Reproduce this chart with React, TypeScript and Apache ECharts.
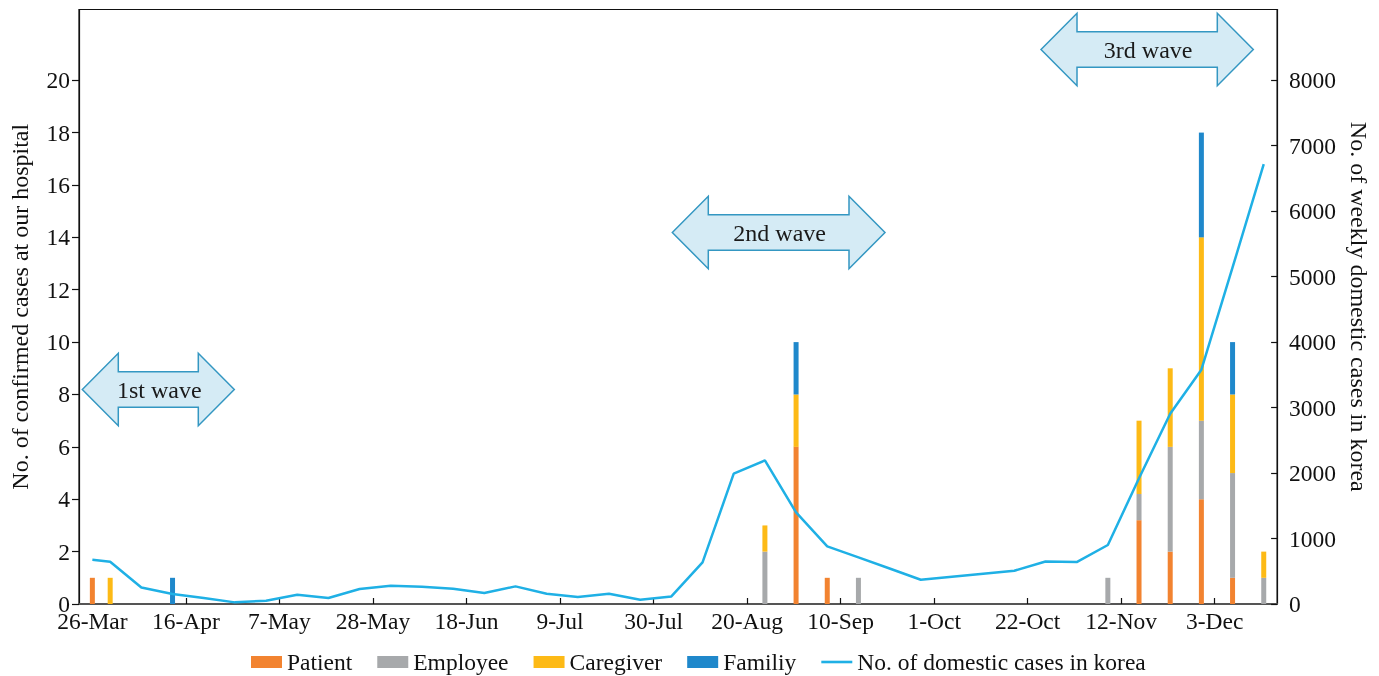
import React, { useEffect, useRef } from 'react';
import * as echarts from 'echarts';

// ---- data ----
const weeks = [
  '26-Mar', '30-Mar', '6-Apr', '13-Apr', '20-Apr', '27-Apr', '4-May', '11-May', '18-May', '25-May',
  '1-Jun', '8-Jun', '15-Jun', '22-Jun', '29-Jun', '6-Jul', '13-Jul', '20-Jul', '27-Jul', '3-Aug',
  '10-Aug', '17-Aug', '24-Aug', '31-Aug', '7-Sep', '14-Sep', '21-Sep', '28-Sep', '5-Oct', '12-Oct',
  '19-Oct', '26-Oct', '2-Nov', '9-Nov', '16-Nov', '23-Nov', '30-Nov', '7-Dec', '14-Dec',
];
const patient = [
  1, 0, 0, 0, 0, 0, 0, 0, 0, 0,
  0, 0, 0, 0, 0, 0, 0, 0, 0, 0,
  0, 0, 0, 6, 1, 0, 0, 0, 0, 0,
  0, 0, 0, 0, 3.2, 2, 4, 1, 0,
];
const employee = [
  0, 0, 0, 0, 0, 0, 0, 0, 0, 0,
  0, 0, 0, 0, 0, 0, 0, 0, 0, 0,
  0, 0, 2, 0, 0, 1, 0, 0, 0, 0,
  0, 0, 0, 1, 1, 4, 3, 4, 1,
];
const caregiver = [
  0, 1, 0, 0, 0, 0, 0, 0, 0, 0,
  0, 0, 0, 0, 0, 0, 0, 0, 0, 0,
  0, 0, 1, 2, 0, 0, 0, 0, 0, 0,
  0, 0, 0, 0, 2.8, 3, 7, 3, 1,
];
const familiy = [
  0, 0, 0, 1, 0, 0, 0, 0, 0, 0,
  0, 0, 0, 0, 0, 0, 0, 0, 0, 0,
  0, 0, 0, 2, 0, 0, 0, 0, 0, 0,
  0, 0, 0, 0, 0, 0, 4, 2, 0,
];
const domestic = [
  676, 646, 253, 153, 92, 25, 50, 142, 92, 229,
  279, 264, 234, 168, 269, 157, 107, 157, 66, 116,
  635, 1990, 2193, 1399, 880, 712, 542, 371, 417, 463,
  508, 650, 641, 901, 1920, 2906, 3578, 5140, 6719,
];
const xTickLabels = [
  '26-Mar', '16-Apr', '7-May', '28-May', '18-Jun', '9-Jul', '30-Jul',
  '20-Aug', '10-Sep', '1-Oct', '22-Oct', '12-Nov', '3-Dec',
];
const xRange = ['23-Mar', '17-Dec'];
const leftTicks = [0, 2, 4, 6, 8, 10, 12, 14, 16, 18, 20];
const rightTicks = [0, 1000, 2000, 3000, 4000, 5000, 6000, 7000, 8000];

const seriesNames = ['Patient', 'Employee', 'Caregiver', 'Familiy'];
const lineName = 'No. of domestic cases in korea';
const colors = ['#F28330', '#A7A9AB', '#FDBA16', '#1F88CB'];
const lineColor = '#1FB0E5';

const MONTHS = ['Jan', 'Feb', 'Mar', 'Apr', 'May', 'Jun', 'Jul', 'Aug', 'Sep', 'Oct', 'Nov', 'Dec'];
const ORIGIN = Date.UTC(2020, 2, 26);
function toDay(label: string): number {
  const [d, m] = label.split('-');
  return Math.round((Date.UTC(2020, MONTHS.indexOf(m), Number(d)) - ORIGIN) / 86400000);
}
const dayToLabel: Record<number, string> = {};
xTickLabels.forEach((l) => { dayToLabel[toDay(l)] = l; });

const FONT = 'Liberation Serif';

function arrow(xL: number, xR: number, yC: number, label: string) {
  const head = 36, hh = 36.2, bh = 17.8;
  return {
    type: 'group',
    children: [
      {
        type: 'polygon',
        shape: {
          points: [
            [xL, yC], [xL + head, yC - hh], [xL + head, yC - bh], [xR - head, yC - bh], [xR - head, yC - hh],
            [xR, yC], [xR - head, yC + hh], [xR - head, yC + bh], [xL + head, yC + bh], [xL + head, yC + hh],
          ],
        },
        style: { fill: '#D5EBF5', stroke: '#3497C2', lineWidth: 1.5 },
      },
      {
        type: 'text',
        x: (xL + xR) / 2 + 1,
        y: yC,
        style: {
          text: label, fontSize: 24, fontFamily: FONT, fill: '#1a1a1a',
          align: 'center', verticalAlign: 'middle', textAlign: 'center', textVerticalAlign: 'middle',
        },
      },
    ],
  };
}

export default function App() {
  const ref = useRef<HTMLDivElement>(null);
  useEffect(() => {
    if (!ref.current) return;
    const chart = echarts.init(ref.current, undefined, { renderer: 'svg' });
    const days = weeks.map(toDay);
    const barData = [patient, employee, caregiver, familiy];
    const tickTextStyle = { fontSize: 23.5, fontFamily: FONT, color: '#111' };
    const nameStyle = { fontSize: 24, fontFamily: FONT, color: '#111' };
    chart.setOption({
      animation: false,
      grid: { left: 79, right: 101, top: 9.5, bottom: 72, show: true, borderColor: '#111', borderWidth: 1.2 },
      legend: {
        left: 246,
        top: 645,
        itemWidth: 31,
        itemHeight: 12,
        itemGap: 25,
        textStyle: { fontSize: 23.5, fontFamily: FONT, color: '#111', lineHeight: 20 },
        data: [
          ...seriesNames.map((n) => ({ name: n, icon: 'rect' })),
          { name: lineName, icon: 'path://M0,0H31V2.6H0Z', itemStyle: { color: lineColor } },
        ],
      },
      xAxis: {
        type: 'value',
        min: toDay(xRange[0]),
        max: toDay(xRange[1]),
        splitLine: { show: false },
        axisLine: { show: true, onZero: false, lineStyle: { color: '#555', width: 2 } },
        axisTick: { show: true, inside: true, length: 6, customValues: xTickLabels.map(toDay), lineStyle: { color: '#111', width: 1.2 } },
        axisLabel: {
          customValues: xTickLabels.map(toDay),
          formatter: (v: number) => dayToLabel[Math.round(v)] ?? '',
          margin: 5,
          ...tickTextStyle,
        },
      },
      yAxis: [
        {
          type: 'value',
          min: 0,
          max: 22.7,
          name: 'No. of confirmed cases at our hospital',
          nameLocation: 'middle',
          nameGap: 47,
          nameTextStyle: nameStyle,
          splitLine: { show: false },
          axisLine: { show: true, onZero: false, lineStyle: { color: '#111', width: 1.2 } },
          axisTick: { show: true, length: 7, customValues: leftTicks, lineStyle: { color: '#111', width: 1.2 } },
          axisLabel: { customValues: leftTicks, margin: 9, ...tickTextStyle },
        },
        {
          type: 'value',
          min: 0,
          max: 9080,
          position: 'right',
          name: 'No. of weekly domestic cases in korea',
          nameLocation: 'middle',
          nameRotate: -90,
          nameGap: 68,
          nameTextStyle: nameStyle,
          splitLine: { show: false },
          axisLine: { show: true, onZero: false, lineStyle: { color: '#111', width: 1.2 } },
          axisTick: { show: true, inside: true, length: 6, customValues: rightTicks, lineStyle: { color: '#111', width: 1.2 } },
          axisLabel: { customValues: rightTicks, margin: 12, formatter: (v: number) => String(v), ...tickTextStyle },
        },
      ],
      series: [
        ...seriesNames.map((name, i) => ({
          name,
          type: 'bar',
          stack: 'cases',
          barWidth: 5,
          itemStyle: { color: colors[i] },
          // value first, day second so that the stack runs on the value dimension
          encode: { x: 1, y: 0 },
          data: days.map((d, j) => [barData[i][j], d]),
        })),
        {
          name: lineName,
          type: 'line',
          yAxisIndex: 1,
          symbol: 'none',
          lineStyle: { color: lineColor, width: 2.5 },
          itemStyle: { color: lineColor },
          data: days.map((d, j) => [d, domestic[j]]),
        },
      ],
      graphic: [
        arrow(82.3, 234.3, 389.5, '1st wave'),
        arrow(672.3, 885, 232.5, '2nd wave'),
        arrow(1041, 1253.3, 49.5, '3rd wave'),
      ],
    });
    return () => chart.dispose();
  }, []);
  return <div ref={ref} style={{ position: 'fixed', left: 0, top: 0, width: 1379, height: 676 }} />;
}
